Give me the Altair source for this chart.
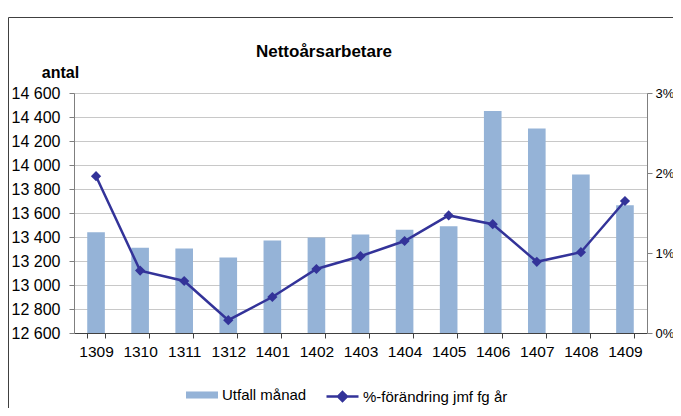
import altair as alt
import pandas as pd

months = ["1309", "1310", "1311", "1312", "1401", "1402", "1403",
          "1404", "1405", "1406", "1407", "1408", "1409"]
utfall = [13440, 13310, 13305, 13230, 13370, 13395, 13420,
          13460, 13490, 14450, 14305, 13920, 13665]
pct = [1.96, 0.78, 0.65, 0.16, 0.45, 0.80, 0.96,
       1.15, 1.47, 1.36, 0.89, 1.01, 1.65]

title_text = "Nettoårsarbetare"
bar_name = "Utfall månad"
line_name = "%-förändring jmf fg år"
left_ticks = [12600, 12800, 13000, 13200, 13400, 13600, 13800, 14000, 14200, 14400, 14600]
right_ticks = [0, 1, 2, 3]

FONT = "Liberation Sans"
BAR_COLOR = "#95B3D7"
LINE_COLOR = "#333399"

df = pd.DataFrame({
    "month": months,
    "utfall": utfall,
    "pct": pct,
    "bar_series": [bar_name] * len(months),
    "line_series": [line_name] * len(months),
})

x_enc = alt.X("month:N", sort=months, title=None,
              scale=alt.Scale(paddingInner=0.6, paddingOuter=0.3),
              axis=alt.Axis(labelAngle=0, tickBand="extent", tickSize=5,
                            labelPadding=6, labelFontSize=15.5, labelFont=FONT,
                            labelColor="black", domainColor="#404040",
                            tickColor="#404040", grid=False))

bars = alt.Chart(df).mark_bar(clip=True).encode(
    x=x_enc,
    y=alt.Y("utfall:Q", scale=alt.Scale(domain=[12600, 14600], nice=False, zero=False),
            axis=alt.Axis(values=left_ticks, title="antal", titleAngle=0,
                          titleX=-14, titleY=-16, titleAlign="center",
                          titleBaseline="alphabetic", titleFontSize=16,
                          titleFont=FONT, titleFontWeight="bold", titleColor="black",
                          labelExpr="replace(format(datum.value, ',d'), ',', ' ')",
                          labelFontSize=16, labelFont=FONT, labelColor="black",
                          labelPadding=9, tickSize=5, tickColor="#7f7f7f",
                          domainColor="#7f7f7f", grid=True, gridColor="#C8C8C8",
                          gridWidth=1.2)),
    y2=alt.datum(12600),
    fill=alt.Fill("bar_series:N", scale=alt.Scale(domain=[bar_name], range=[BAR_COLOR]),
                  legend=alt.Legend(title=None, orient="none", legendX=112, legendY=286,
                                    symbolType="M-1,-0.22H1V0.22H-1Z", symbolSize=1024,
                                    symbolStrokeWidth=0, labelFontSize=15,
                                    labelFont=FONT, labelColor="black",
                                    labelOffset=4, padding=0)),
)

y_right = alt.Y("pct:Q", scale=alt.Scale(domain=[0, 3], nice=False),
                axis=alt.Axis(orient="right", values=right_ticks, title=None,
                              labelExpr="datum.value + '%'", labelFontSize=13,
                              labelFont=FONT, labelColor="black", labelPadding=3,
                              tickSize=5, tickColor="#7f7f7f", domainColor="#7f7f7f",
                              grid=False))

line = alt.Chart(df).mark_line(strokeWidth=2.5).encode(
    x=alt.X("month:N", sort=months),
    y=y_right,
    stroke=alt.Stroke("line_series:N",
                      scale=alt.Scale(domain=[line_name], range=[LINE_COLOR]),
                      legend=alt.Legend(title=None, orient="none", legendX=251, legendY=286,
                                        symbolType="M-1,0H1M0,-0.28L0.28,0L0,0.28L-0.28,0Z",
                                        symbolSize=1024, symbolStrokeWidth=2.5,
                                        symbolFillColor=LINE_COLOR, labelFontSize=15,
                                        labelFont=FONT, labelColor="black",
                                        labelOffset=3, padding=0)),
)

points = alt.Chart(df).mark_point(shape="diamond", filled=True, size=105,
                                  color=LINE_COLOR, opacity=1).encode(
    x=alt.X("month:N", sort=months),
    y=y_right,
)

frame = alt.Chart(pd.DataFrame({"f": [0]})).mark_rect(
    fill="transparent", stroke="#404040", strokeWidth=1
).encode(
    x=alt.value(-65.5), x2=alt.value(640), y=alt.value(-75.5), y2=alt.value(330)
)

title = alt.Chart(pd.DataFrame({"t": [title_text]})).mark_text(
    font=FONT, fontSize=17, fontWeight="bold", color="black",
    align="center", baseline="alphabetic"
).encode(text="t:N", x=alt.value(250), y=alt.value(-36))

right = alt.layer(line, points)

chart = alt.layer(frame, title, bars, right).resolve_scale(
    y="independent"
).properties(
    width=573,
    height=240,
    autosize=alt.AutoSizeParams(type="none"),
    padding={"left": 66, "top": 85, "right": 26, "bottom": 75},
).configure_view(stroke=None).configure(background="white")

chart.save("out.html", embed_options={"renderer": "svg", "actions": False})
